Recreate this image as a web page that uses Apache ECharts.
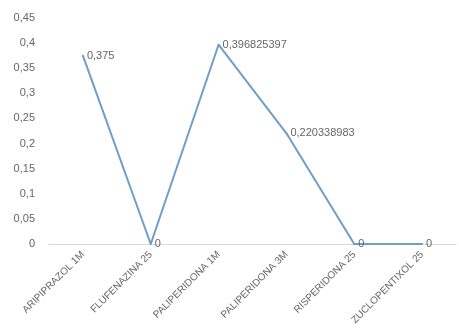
<!DOCTYPE html>
<html>
<head>
<meta charset="utf-8">
<script src="https://cdn.jsdelivr.net/npm/echarts@6/dist/echarts.min.js"></script>
<style>
  html, body { margin: 0; padding: 0; background: #fff; }
  #chart { width: 459px; height: 333px; }
</style>
</head>
<body>
<div id="chart"></div>
<script>
// Drug categories and their values
const categories = ['ARIPIPRAZOL 1M', 'FLUFENAZINA 25', 'PALIPERIDONA 1M', 'PALIPERIDONA 3M', 'RISPERIDONA 25', 'ZUCLOPENTIXOL 25'];
const values = [0.375, 0, 0.396825397, 0.220338983, 0, 0];
const yTicks = [0, 0.05, 0.1, 0.15, 0.2, 0.25, 0.3, 0.35, 0.4, 0.45];

const commaFmt = v => String(v).replace('.', ',');

const chart = echarts.init(document.getElementById('chart'));
chart.setOption({
  animation: false,
  backgroundColor: '#ffffff',
  grid: { left: 49, right: 3, top: 18, bottom: 89 },
  textStyle: { fontFamily: 'Liberation Sans, Arial, sans-serif' },
  xAxis: {
    type: 'category',
    data: categories,
    boundaryGap: true,
    axisLine: { lineStyle: { color: '#d9d9d9', width: 1 } },
    axisTick: { show: false },
    axisLabel: { rotate: 45, color: '#666666', fontSize: 10, margin: 9, interval: 0 }
  },
  yAxis: {
    type: 'value',
    min: yTicks[0],
    max: yTicks[yTicks.length - 1],
    interval: 0.05,
    axisLine: { show: false },
    axisTick: { show: false },
    splitLine: { show: false },
    axisLabel: {
      color: '#666666', fontSize: 11, margin: 14,
      formatter: v => commaFmt(+v.toFixed(2))
    }
  },
  series: [{
    type: 'line',
    data: values,
    symbol: 'circle',
    symbolSize: 2,
    showSymbol: true,
    showAllSymbol: true,
    itemStyle: { color: '#6f9ec8' },
    lineStyle: { color: '#6f9ec8', width: 2 },
    label: {
      show: true,
      position: 'right',
      distance: 3,
      color: '#666666',
      fontSize: 11,
      formatter: p => commaFmt(p.value)
    }
  }]
});
</script>
</body>
</html>
